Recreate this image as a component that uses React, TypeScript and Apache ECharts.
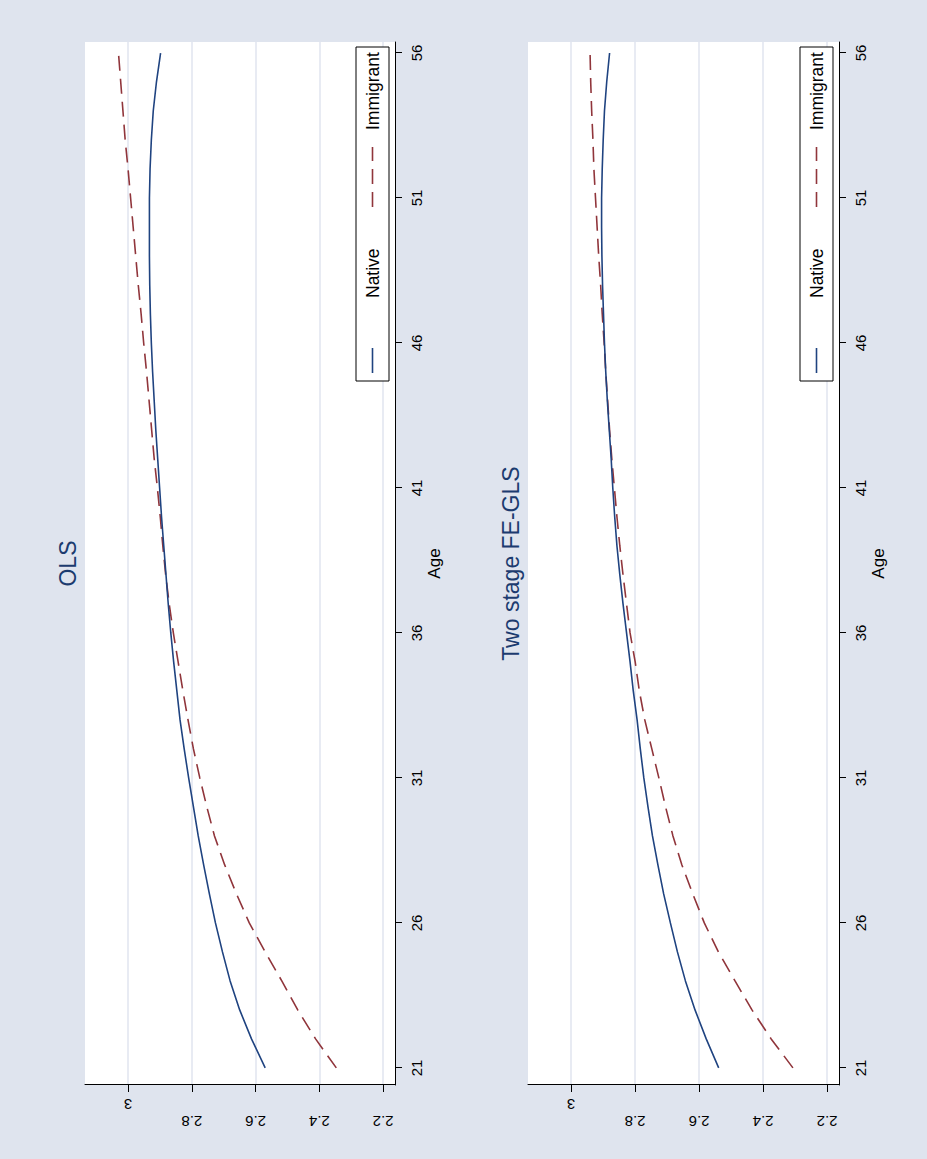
import { useEffect, useRef } from 'react';
import * as echarts from 'echarts';

// ---------------- data ----------------
const ages = [21, 22, 23, 24, 25, 26, 27, 28, 29, 30, 31, 32, 33, 34, 35, 36, 37, 38,
  39, 40, 41, 42, 43, 44, 45, 46, 47, 48, 49, 50, 51, 52, 53, 54, 55, 56];

const olsNative = [2.570, 2.613, 2.650, 2.680, 2.704, 2.726, 2.745, 2.763, 2.780, 2.795,
  2.810, 2.824, 2.837, 2.847, 2.857, 2.866, 2.874, 2.881, 2.888, 2.895, 2.901, 2.907,
  2.913, 2.918, 2.923, 2.927, 2.930, 2.932, 2.933, 2.933, 2.933, 2.931, 2.927, 2.921,
  2.911, 2.898];

const olsImmigrant = [2.347, 2.412, 2.468, 2.518, 2.570, 2.620, 2.660, 2.697, 2.729, 2.753,
  2.775, 2.795, 2.812, 2.828, 2.843, 2.858, 2.871, 2.882, 2.891, 2.899, 2.908, 2.918,
  2.926, 2.934, 2.942, 2.951, 2.959, 2.968, 2.976, 2.984, 2.992, 3.000, 3.009, 3.016,
  3.023, 3.030];

const feNative = [2.539, 2.578, 2.613, 2.643, 2.668, 2.690, 2.711, 2.729, 2.746, 2.760,
  2.773, 2.784, 2.794, 2.806, 2.816, 2.827, 2.838, 2.848, 2.857, 2.864, 2.870, 2.875,
  2.881, 2.887, 2.892, 2.896, 2.899, 2.902, 2.904, 2.905, 2.905, 2.903, 2.900, 2.896,
  2.889, 2.880];

const feImmigrant = [2.307, 2.375, 2.435, 2.488, 2.540, 2.584, 2.620, 2.654, 2.682, 2.705,
  2.726, 2.748, 2.770, 2.787, 2.800, 2.816, 2.827, 2.838, 2.848, 2.857, 2.865, 2.873,
  2.880, 2.886, 2.892, 2.897, 2.903, 2.908, 2.914, 2.919, 2.924, 2.929, 2.932, 2.936,
  2.939, 2.941];

const xTicks = [21, 26, 31, 36, 41, 46, 51, 56];
const yTicks = [2.2, 2.4, 2.6, 2.8, 3];
const yLabelsFar = [2.2, 2.4, 2.6, 2.8];
const yLabelsNear = [3];
const panelTitles = ['OLS', 'Two stage FE-GLS'];
const seriesNames = ['Native', 'Immigrant'];
const xAxisTitle = 'Age';

// ---------------- layout / style ----------------
const W = 1159; // unrotated width
const H = 927;  // unrotated height
const BG = '#dfe4ee';
const NAVY = '#1f4380';
const MAROON = '#90353b';
const TITLE = '#1c3b6f';
const FONT = '"Liberation Sans", Arial, Helvetica, sans-serif';

const GRID_LEFT = 74;
const GRID_WIDTH = 1043;
const panels = [
  { top: 85, height: 310, native: olsNative, imm: olsImmigrant, title: panelTitles[0] },
  { top: 528, height: 311, native: feNative, imm: feImmigrant, title: panelTitles[1] },
];
const X_MIN = 20.41;
const X_MAX = 56.38;
const Y_MIN = 2.163;
const Y_MAX = 3.135;

function buildOption() {
  const grid: any[] = [];
  const xAxis: any[] = [];
  const yAxis: any[] = [];
  const series: any[] = [];
  const graphic: any[] = [];

  panels.forEach((p, i) => {
    grid.push({
      left: GRID_LEFT, top: p.top, width: GRID_WIDTH, height: p.height,
      show: true, backgroundColor: '#ffffff', borderWidth: 0, borderColor: 'transparent',
    });
    xAxis.push({
      type: 'value', gridIndex: i, min: X_MIN, max: X_MAX,
      name: xAxisTitle, nameLocation: 'middle', nameGap: 31,
      nameTextStyle: { fontSize: 17, color: '#000', fontFamily: FONT },
      axisLine: { show: true, onZero: false, lineStyle: { color: '#000', width: 1 } },
      axisTick: { show: true, customValues: xTicks, length: 7, lineStyle: { color: '#000', width: 1 } },
      axisLabel: { customValues: xTicks, margin: 13.5, fontSize: 15, color: '#000', fontFamily: FONT },
      splitLine: { show: false },
    });
    // main y axis (line, ticks, grid lines, far labels)
    yAxis.push({
      type: 'value', gridIndex: i, position: 'left', min: Y_MIN, max: Y_MAX,
      axisLine: { show: true, onZero: false, lineStyle: { color: '#000', width: 1 } },
      axisTick: { show: true, customValues: yTicks, length: 7, lineStyle: { color: '#000', width: 1 } },
      axisLabel: { customValues: yLabelsFar, rotate: 90, margin: 29.2, fontSize: 15, color: '#000', fontFamily: FONT },
      splitLine: { show: true, lineStyle: { color: '#e0e5ef', width: 1.5 } },
    });
    series.push({
      name: seriesNames[0], type: 'line', xAxisIndex: i, yAxisIndex: i * 2,
      data: ages.map((a, k) => [a, p.native[k]]),
      showSymbol: false, symbol: 'none', z: 3,
      lineStyle: { color: NAVY, width: 1.6 }, itemStyle: { color: NAVY },
    });
    series.push({
      name: seriesNames[1], type: 'line', xAxisIndex: i, yAxisIndex: i * 2,
      data: ages.map((a, k) => [a, p.imm[k]]),
      showSymbol: false, symbol: 'none', z: 2,
      lineStyle: { color: MAROON, width: 1.6, type: [15, 8] }, itemStyle: { color: MAROON },
    });

    // title
    graphic.push({
      type: 'text', x: GRID_LEFT + GRID_WIDTH / 2, y: p.top - 17,
      style: {
        text: p.title, fill: TITLE, fontSize: 23, fontFamily: FONT,
        align: 'center', verticalAlign: 'middle', textAlign: 'center', textVerticalAlign: 'middle',
      },
    });
    // legend box
    const legTop = p.top + p.height - 39;
    const cy = legTop + 16.5;
    graphic.push({
      type: 'rect', shape: { x: 778, y: legTop, width: 334, height: 33 },
      style: { fill: '#ffffff', stroke: '#000', lineWidth: 1 }, z: 10,
    });
    graphic.push({
      type: 'line', shape: { x1: 786, y1: cy, x2: 811, y2: cy },
      style: { stroke: NAVY, lineWidth: 1.6 }, z: 11,
    });
    graphic.push({
      type: 'text', x: 861, y: cy, z: 11,
      style: {
        text: seriesNames[0], fill: '#000', fontSize: 17.5, fontFamily: FONT,
        align: 'left', verticalAlign: 'middle', textAlign: 'left', textVerticalAlign: 'middle',
      },
    });
    graphic.push({
      type: 'line', shape: { x1: 952, y1: cy, x2: 1012, y2: cy },
      style: { stroke: MAROON, lineWidth: 1.6, lineDash: [15, 8] }, z: 11,
    });
    graphic.push({
      type: 'text', x: 1029, y: cy, z: 11,
      style: {
        text: seriesNames[1], fill: '#000', fontSize: 17.5, fontFamily: FONT,
        align: 'left', verticalAlign: 'middle', textAlign: 'left', textVerticalAlign: 'middle',
      },
    });
  });

  // secondary y axes for the near label "3"
  panels.forEach((p, i) => {
    yAxis.splice(i * 2 + 1, 0, {
      type: 'value', gridIndex: i, position: 'left', offset: 0, min: Y_MIN, max: Y_MAX,
      axisLine: { show: false }, axisTick: { show: false },
      axisLabel: { customValues: yLabelsNear, rotate: 90, margin: 11.6, fontSize: 15, color: '#000', fontFamily: FONT },
      splitLine: { show: false },
    });
  });

  return {
    animation: false,
    backgroundColor: BG,
    textStyle: { fontFamily: FONT },
    grid, xAxis, yAxis, series, graphic,
  };
}

export default function App() {
  const ref = useRef<HTMLDivElement>(null);
  useEffect(() => {
    if (!ref.current) return;
    const chart = echarts.init(ref.current, null, { renderer: 'svg', width: W, height: H });
    chart.setOption(buildOption() as any);
    return () => chart.dispose();
  }, []);
  return (
    <div style={{ position: 'absolute', left: 0, top: 0, width: H, height: W, overflow: 'hidden', background: BG }}>
      <div
        ref={ref}
        style={{
          position: 'absolute', left: 0, top: 0, width: W, height: H,
          transformOrigin: '0 0', transform: `translate(0px, ${W}px) rotate(-90deg)`,
        }}
      />
    </div>
  );
}
